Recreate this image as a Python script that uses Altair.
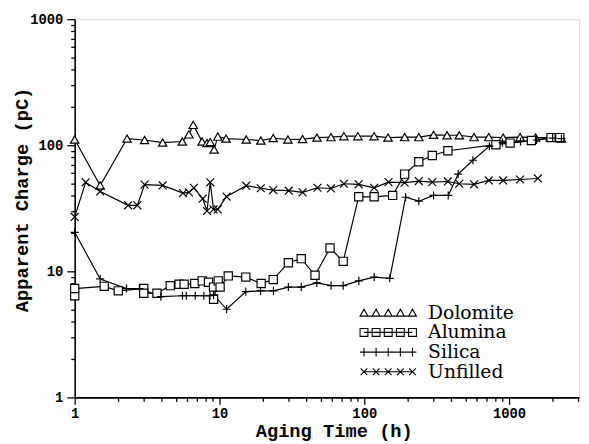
import altair as alt
import pandas as pd

series_names = ["Dolomite", "Alumina", "Silica", "Unfilled"]

dol_x = [1, 1.5, 2.3, 3.04, 4.05, 5.54, 6.15, 6.58, 7.58, 8.2, 8.63, 9.19, 9.73, 11.1, 15.3, 19.3, 23.5, 29.7,
         37.5, 47.1, 58.9, 72.3, 90.3, 117, 146, 190, 238, 301, 373, 453, 573, 724, 910, 1191, 1524, 1927, 2298]
dol_y = [111, 48, 113, 110, 105, 107, 122, 145, 107, 104, 106, 92.5, 117, 113, 111, 109, 114, 111,
         112, 115, 116, 118, 118, 118, 115, 116, 116, 121, 120, 120, 116, 116, 115, 116, 115, 115, 113]

alu_x = [1, 1, 1.6, 2.0, 3.0, 3.0, 3.7, 4.57, 5.26, 5.7, 6.75, 7.6, 8.4, 9.1, 9.1, 9.8, 10.1, 11.5, 15.2,
         19.4, 23.5, 29.9, 36.7, 45.7, 58, 71.5, 91.5, 117, 157, 190, 238, 295, 378, 811, 1016, 1426, 1950, 2240]
alu_y = [6.4, 7.3, 7.6, 7.0, 7.3, 6.7, 6.7, 7.7, 7.9, 7.9, 8.0, 8.4, 8.2, 7.5, 6.0, 8.4, 7.5, 9.2, 9.0,
         8.0, 8.6, 11.7, 12.6, 9.3, 15.3, 12.0, 39, 39, 40, 59, 74, 83, 90.5, 101, 104, 109, 115, 115]

sil_x = [1, 1.5, 2.28, 2.8, 3.94, 5.55, 5.9, 6.8, 7.8, 8.6, 9.1, 11.2, 15.2, 19.2, 23.6, 29.9, 36.7, 47, 59,
         71.5, 91.7, 117, 150, 193, 238, 301, 380, 445, 563, 731, 900, 1200, 1550, 2000, 2300]
sil_y = [20.4, 8.7, 7.3, 7.3, 6.3, 6.4, 6.4, 6.4, 6.4, 6.4, 6.5, 5.0, 6.9, 7.0, 7.0, 7.5, 7.5, 8.1, 7.7,
         7.7, 8.4, 9.0, 8.8, 38.7, 36, 40, 40, 59, 76, 98, 105, 107, 110, 114, 113]

unf_x = [1, 1.19, 1.5, 2.34, 2.71, 3.04, 4.05, 5.6, 6.15, 6.66, 7.66, 8.2, 8.63, 9.1, 9.73, 11.2, 15.3, 19.3,
         23.5, 30.1, 37.5, 47.5, 58.9, 72.3, 91.5, 117, 147, 190, 238, 295, 378, 453, 573, 724, 910, 1190, 1580]
unf_y = [27, 50.8, 43, 33.4, 33.4, 48.7, 48, 41.7, 42.3, 45.9, 37.7, 30.1, 50.8, 31, 31, 39.2, 47.8, 45.6,
         44.1, 43.6, 42.3, 46, 45.4, 49.5, 49, 46, 51, 50.5, 52, 51, 51.6, 49.5, 49, 52.6, 52.6, 53.5, 54.5]

x_tick_values = [m * 10 ** e for e in range(4) for m in range(1, 10) if m * 10 ** e <= 3000]
y_tick_values = [m * 10 ** e for e in range(3) for m in range(1, 10)] + [1000]

rows = []
for name, xs, ys in zip(series_names, [dol_x, alu_x, sil_x, unf_x], [dol_y, alu_y, sil_y, unf_y]):
    for i, (xv, yv) in enumerate(zip(xs, ys)):
        rows.append({"series": name, "t": xv, "q": yv, "i": i})
df = pd.DataFrame(rows)

# marker shapes
marker_paths = ["triangle-up", "square", "M-1,0L1,0M0,-1L0,1", "M-1,-1L1,1M-1,1L1,-1"]
marker_sizes = [72, 64, 72, 42]

# legend symbols: row of five markers joined by a line
cs = [-6.15, -3.08, 0, 3.08, 6.15]
leg_tri = "M-6.15,0.87L6.15,0.87" + "".join(f"M{c},-0.9L{c-1},0.87L{c+1},0.87Z" for c in cs)
leg_sq = "M-6.15,0L6.15,0" + "".join(f"M{c-1},-1L{c+1},-1L{c+1},1L{c-1},1Z" for c in cs)
leg_plus = "M-7.15,0L7.15,0" + "".join(f"M{c},-1.1L{c},1.1" for c in cs)
leg_x = "M-6.15,0L6.15,0" + "".join(
    f"M{c-0.85},-0.85L{c+0.85},0.85M{c-0.85},0.85L{c+0.85},-0.85" for c in cs)
legend_paths = [leg_tri, leg_sq, leg_plus, leg_x]

is_major = "abs(log(datum.value)/LN10 - round(log(datum.value)/LN10)) < 0.001"

FONT = "Liberation Mono"

x_axis = alt.Axis(
    values=x_tick_values, format="d", labelExpr=f"{is_major} ? datum.label : ''",
    tickSize={"condition": {"test": is_major, "value": 7}, "value": 4},
    labelFont=FONT, labelFontWeight="bold", labelFontSize=14, labelColor="black",
    labelPadding=2, labelOverlap=False, labelFlush=False,
    tickColor="black", tickWidth=1.3, domainColor="black", domainWidth=1.6, grid=False,
    title="Aging Time (h)", titleFont=FONT, titleFontWeight="bold", titleFontSize=19,
    titleColor="black", titleX=263, titleY=40, titleBaseline="alphabetic", titleAlign="center",
)
y_axis = alt.Axis(
    values=y_tick_values, format="d", labelExpr=f"{is_major} ? datum.label : ''",
    tickSize={"condition": {"test": is_major, "value": 8}, "value": 4},
    labelFont=FONT, labelFontWeight="bold", labelFontSize=14, labelColor="black",
    labelPadding=4, labelOverlap=False, labelFlush=False,
    tickColor="black", tickWidth=1.3, domainColor="black", domainWidth=1.6, grid=False,
    title="Apparent Charge (pC)", titleFont=FONT, titleFontWeight="bold", titleFontSize=19,
    titleColor="black", titleX=-53.7, titleY=183, titleAngle=-90, titleBaseline="middle",
    titleAlign="center",
)

x_scale = alt.Scale(type="log", domain=[1, 3042], nice=False)
y_scale = alt.Scale(type="log", domain=[1, 1000], nice=False)

base = alt.Chart(df)

lines = base.mark_line(color="black", strokeWidth=1.2).encode(
    x=alt.X("t:Q", scale=x_scale, axis=x_axis),
    y=alt.Y("q:Q", scale=y_scale, axis=y_axis),
    detail="series:N",
    order="i:Q",
)

points = base.mark_point(fill="white", stroke="black", strokeWidth=1.2, opacity=1).encode(
    x=alt.X("t:Q", scale=x_scale),
    y=alt.Y("q:Q", scale=y_scale),
    shape=alt.Shape("series:N", scale=alt.Scale(domain=series_names, range=marker_paths), legend=None),
    size=alt.Size("series:O", scale=alt.Scale(domain=series_names, range=marker_sizes), legend=None),
)

legend_df = pd.DataFrame({"series": series_names})
legend_layer = alt.Chart(legend_df).mark_point(opacity=0).encode(
    shape=alt.Shape(
        "series:N",
        scale=alt.Scale(domain=series_names, range=legend_paths),
        legend=alt.Legend(
            title=None, orient="none", legendX=308.8, legendY=288.5, padding=0,
            symbolSize=64, symbolStrokeWidth=1.1, symbolStrokeColor="black",
            symbolFillColor="white", symbolOpacity=1,
            labelFont="DejaVu Serif", labelFontSize=19, labelColor="black",
            labelOffset=31, rowPadding=0, labelLimit=300,
        ),
    )
)

chart = alt.layer(lines, points, legend_layer).resolve_scale(shape="independent", size="independent").properties(
    width=512, height=384,
    padding={"left": 67.7, "top": 8, "right": 2, "bottom": 46},
    autosize=alt.AutoSizeParams(type="none"),
).configure_view(stroke=None).configure(background="white")

chart.save("out.html", embed_options={"renderer": "svg", "actions": False})
